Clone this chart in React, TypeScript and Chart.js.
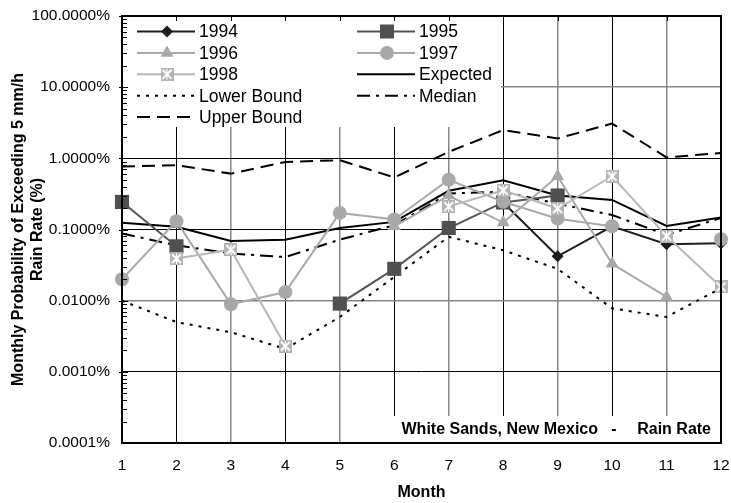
import React, { useEffect, useRef } from "react";
import { Chart, registerables } from "chart.js";

Chart.register(...registerables);

const months = [1, 2, 3, 4, 5, 6, 7, 8, 9, 10, 11, 12];
const yTickValues = [0.0001, 0.001, 0.01, 0.1, 1, 10, 100];

const y1994 = [null, null, null, null, null, null, null, 0.24, 0.042, 0.111, 0.062, 0.064];
const y1995 = [0.244, 0.058, null, null, 0.0091, 0.028, 0.105, 0.24, 0.3, null, null, null];
const y1996 = [null, null, null, null, null, 0.111, 0.3, 0.125, 0.56, 0.033, 0.0113, null];
const y1997 = [0.02, 0.131, 0.0089, 0.0132, 0.171, 0.138, 0.5, 0.245, 0.142, 0.111, null, 0.073];
const y1998 = [null, 0.039, 0.052, 0.0023, null, null, 0.21, 0.356, 0.197, 0.56, 0.081, 0.0156];
const expected = [0.124, 0.109, 0.069, 0.072, 0.105, 0.128, 0.35, 0.49, 0.3, 0.26, 0.112, 0.147];
const lowerBound = [0.01, 0.005, 0.0036, 0.0021, 0.0059, 0.0216, 0.079, 0.051, 0.028, 0.0078, 0.0059, 0.015];
const median = [0.088, 0.06, 0.046, 0.041, 0.072, 0.115, 0.32, 0.34, 0.23, 0.16, 0.084, 0.145];
const upperBound = [0.77, 0.8, 0.61, 0.89, 0.94, 0.54, 1.23, 2.5, 1.9, 3.08, 1.03, 1.19];

const FONT = "'Liberation Sans', Arial, sans-serif";

function makeXMarker(size: number) {
  const c = document.createElement("canvas");
  c.width = size;
  c.height = size;
  const g = c.getContext("2d")!;
  g.fillStyle = "#b3b3b3";
  g.fillRect(0, 0, size, size);
  g.strokeStyle = "#ffffff";
  g.lineWidth = 2;
  g.beginPath();
  g.moveTo(2, 2);
  g.lineTo(size - 2, size - 2);
  g.moveTo(size - 2, 2);
  g.lineTo(2, size - 2);
  g.stroke();
  g.lineWidth = 1;
  g.beginPath();
  g.moveTo(size / 2, 1);
  g.lineTo(size / 2, size - 1);
  g.stroke();
  return c;
}

const pts = (arr: (number | null)[]) => months.map((m, i) => ({ x: m, y: arr[i] }));

type LegendItem = {
  label: string;
  color: string;
  width: number;
  dash: number[];
  marker: string | null;
  markerColor?: string;
};

function drawMarker(ctx: CanvasRenderingContext2D, kind: string | null, x: number, y: number, color: string, img: HTMLCanvasElement) {
  if (!kind) return;
  ctx.save();
  ctx.setLineDash([]);
  ctx.fillStyle = color;
  ctx.beginPath();
  if (kind === "diamond") {
    const r = 6;
    ctx.moveTo(x - r, y);
    ctx.lineTo(x, y - r);
    ctx.lineTo(x + r, y);
    ctx.lineTo(x, y + r);
    ctx.closePath();
    ctx.fill();
  } else if (kind === "square") {
    ctx.fillRect(x - 7, y - 7, 14, 14);
  } else if (kind === "triangle") {
    const r = 7.5;
    ctx.moveTo(x, y - r);
    ctx.lineTo(x + r * Math.sin(Math.PI / 3), y + r / 2);
    ctx.lineTo(x - r * Math.sin(Math.PI / 3), y + r / 2);
    ctx.closePath();
    ctx.fill();
  } else if (kind === "circle") {
    ctx.arc(x, y, 7, 0, Math.PI * 2);
    ctx.fill();
  } else if (kind === "img") {
    ctx.drawImage(img, x - img.width / 2, y - img.height / 2);
  }
  ctx.restore();
}

export default function App() {
  const ref = useRef<HTMLCanvasElement>(null);

  useEffect(() => {
    const xMarker = makeXMarker(13);
    const legendItems: LegendItem[] = [
      { label: "1994", color: "#1e1e1e", width: 2, dash: [], marker: "diamond", markerColor: "#1e1e1e" },
      { label: "1995", color: "#555555", width: 2, dash: [], marker: "square", markerColor: "#505050" },
      { label: "1996", color: "#a9a9a9", width: 2, dash: [], marker: "triangle", markerColor: "#a9a9a9" },
      { label: "1997", color: "#a9a9a9", width: 2, dash: [], marker: "circle", markerColor: "#a9a9a9" },
      { label: "1998", color: "#b8b8b8", width: 2, dash: [], marker: "img" },
      { label: "Expected", color: "#000000", width: 2, dash: [], marker: null },
      { label: "Lower Bound", color: "#000000", width: 2, dash: [3, 6], marker: null },
      { label: "Median", color: "#000000", width: 2, dash: [13, 6, 3, 6], marker: null },
      { label: "Upper Bound", color: "#000000", width: 2, dash: [13, 7], marker: null },
    ];

    const overlay = {
      id: "overlay",
      afterDatasetsDraw(chart: any) {
        const ctx: CanvasRenderingContext2D = chart.ctx;
        const a = chart.chartArea;
        ctx.save();
        ctx.fillStyle = "#ffffff";
        ctx.fillRect(a.left, a.top, 379, 111);
        const cols = [137, 357];
        const rowY0 = 31.5;
        const rowH = 21.4;
        legendItems.forEach((it, i) => {
          const col = i % 2;
          const row = Math.floor(i / 2);
          const x0 = cols[col];
          const y = rowY0 + row * rowH;
          ctx.save();
          ctx.strokeStyle = it.color;
          ctx.lineWidth = it.width;
          ctx.setLineDash(it.dash);
          ctx.beginPath();
          ctx.moveTo(x0, y);
          ctx.lineTo(x0 + 58, y);
          ctx.stroke();
          ctx.restore();
          drawMarker(ctx, it.marker, x0 + 30, y, it.markerColor || it.color, xMarker);
          ctx.fillStyle = "#000";
          ctx.font = `17.5px ${FONT}`;
          ctx.textAlign = "left";
          ctx.textBaseline = "middle";
          ctx.fillText(it.label, x0 + 62, y + 1);
        });
        ctx.fillStyle = "#ffffff";
        ctx.fillRect(380, a.bottom - 27, a.right - 380, 27);
        ctx.fillStyle = "#000";
        ctx.font = `bold 16px ${FONT}`;
        ctx.textBaseline = "middle";
        const ty = a.bottom - 13;
        ctx.textAlign = "right";
        ctx.fillText("White Sands, New Mexico", 598, ty);
        ctx.textAlign = "center";
        ctx.fillText("-", 614, ty);
        ctx.textAlign = "right";
        ctx.fillText("Rain Rate", 711, ty);
        ctx.restore();
      },
      afterDraw(chart: any) {
        const ctx: CanvasRenderingContext2D = chart.ctx;
        const a = chart.chartArea;
        const ys = chart.scales.y;
        const xs = chart.scales.x;
        ctx.save();
        ctx.strokeStyle = "#000";
        ctx.lineWidth = 1;
        ctx.beginPath();
        for (let d = 0.0001; d < 99; d *= 10) {
          for (let k = 2; k <= 9; k++) {
            const py = Math.round(ys.getPixelForValue(k * d)) + 0.5;
            ctx.moveTo(a.left, py);
            ctx.lineTo(a.left + 5, py);
          }
          const py = Math.round(ys.getPixelForValue(d * 10)) + 0.5;
          ctx.moveTo(a.left - 3, py);
          ctx.lineTo(a.left + 6, py);
        }
        for (let m = 2; m <= 11; m++) {
          const px = Math.round(xs.getPixelForValue(m)) + 0.5;
          ctx.moveTo(px, a.top);
          ctx.lineTo(px, a.top + 5);
        }
        ctx.stroke();
        ctx.lineWidth = 2;
        ctx.strokeRect(a.left, a.top, a.right - a.left, a.bottom - a.top);
        ctx.restore();
      },
    };

    const base = { showLine: true, spanGaps: false, clip: false as any, tension: 0 };

    const chart = new Chart(ref.current!, {
      type: "line",
      data: {
        datasets: [
          { ...base, label: "1998", data: pts(y1998), borderColor: "#b8b8b8", borderWidth: 2, pointStyle: xMarker as any, pointRadius: 7, order: 0 },
          { ...base, label: "1997", data: pts(y1997), borderColor: "#a9a9a9", backgroundColor: "#a9a9a9", borderWidth: 2, pointStyle: "circle", pointRadius: 7, pointBorderWidth: 0, order: 1 },
          { ...base, label: "1996", data: pts(y1996), borderColor: "#a9a9a9", backgroundColor: "#a9a9a9", borderWidth: 2, pointStyle: "triangle", pointRadius: 7.5, pointBorderWidth: 0, order: 2 },
          { ...base, label: "1995", data: pts(y1995), borderColor: "#555555", backgroundColor: "#505050", borderWidth: 2, pointStyle: "rect", pointRadius: 10, pointBorderWidth: 0, order: 3 },
          { ...base, label: "1994", data: pts(y1994), borderColor: "#1e1e1e", backgroundColor: "#1e1e1e", borderWidth: 2, pointStyle: "rectRot", pointRadius: 6, pointBorderWidth: 0, order: 4 },
          { ...base, label: "Expected", data: pts(expected), borderColor: "#000", borderWidth: 2, pointRadius: 0, order: 5 },
          { ...base, label: "Lower Bound", data: pts(lowerBound), borderColor: "#000", borderWidth: 2, borderDash: [3, 6], pointRadius: 0, order: 6 },
          { ...base, label: "Median", data: pts(median), borderColor: "#000", borderWidth: 2, borderDash: [13, 6, 3, 6], pointRadius: 0, order: 7 },
          { ...base, label: "Upper Bound", data: pts(upperBound), borderColor: "#000", borderWidth: 2, borderDash: [13, 7], pointRadius: 0, order: 8 },
        ],
      },
      options: {
        responsive: false,
        animation: false,
        devicePixelRatio: 1,
        layout: { padding: { top: 16, right: 10, left: 0, bottom: 0 } },
        plugins: { legend: { display: false }, tooltip: { enabled: false } },
        elements: { point: { hoverRadius: 0 } },
        scales: {
          x: {
            type: "linear",
            min: 1,
            max: 12,
            afterFit: (s: any) => {
              s.height = 60;
              s.paddingLeft = 0;
              s.paddingRight = 0;
            },
            ticks: { stepSize: 1, autoSkip: false, maxRotation: 0, padding: 13, color: "#000", font: { family: FONT, size: 15.5 } },
            grid: {
              drawTicks: false,
              color: (c: any) => (c.tick && c.tick.value % 2 === 0 ? "#000000" : "#858585"),
              lineWidth: (c: any) => (c.tick && c.tick.value % 2 === 0 ? 1 : 1.5),
            },
            border: { display: false },
            title: { display: true, text: "Month", color: "#000", font: { family: FONT, size: 16, weight: "bold" }, padding: { top: 0, bottom: 1 } },
          },
          y: {
            type: "logarithmic",
            min: 0.0001,
            max: 100,
            afterFit: (s: any) => {
              s.width = 122;
              s.paddingTop = 0;
              s.paddingBottom = 0;
            },
            afterBuildTicks: (s: any) => {
              s.ticks = yTickValues.map((v) => ({ value: v }));
            },
            ticks: {
              padding: 12,
              color: "#000",
              font: { family: FONT, size: 15.5 },
              callback: (v: any) => Number(v).toFixed(4) + "%",
            },
            grid: {
              drawTicks: false,
              color: (c: any) => {
                const v = c.tick ? c.tick.value : 0;
                if (Math.abs(Math.log10(v) - 1) < 0.01 || Math.abs(Math.log10(v) + 2) < 0.01) return "#858585";
                return "#000000";
              },
              lineWidth: (c: any) => {
                const v = c.tick ? c.tick.value : 0;
                if (Math.abs(Math.log10(v) - 1) < 0.01 || Math.abs(Math.log10(v) + 2) < 0.01) return 1.5;
                return 1;
              },
            },
            border: { display: false },
            title: {
              display: true,
              text: ["Monthly Probability of Exceeding 5 mm/h", "Rain Rate (%)"],
              color: "#000",
              font: { family: FONT, size: 16, weight: "bold", lineHeight: 1.2 },
              padding: { top: 9, bottom: 0 },
            },
          },
        },
      },
      plugins: [overlay],
    });
    return () => chart.destroy();
  }, []);

  return (
    <div style={{ position: "fixed", left: 0, top: 0, width: 731, height: 503, background: "#fff" }}>
      <canvas ref={ref} width={731} height={503} />
    </div>
  );
}
